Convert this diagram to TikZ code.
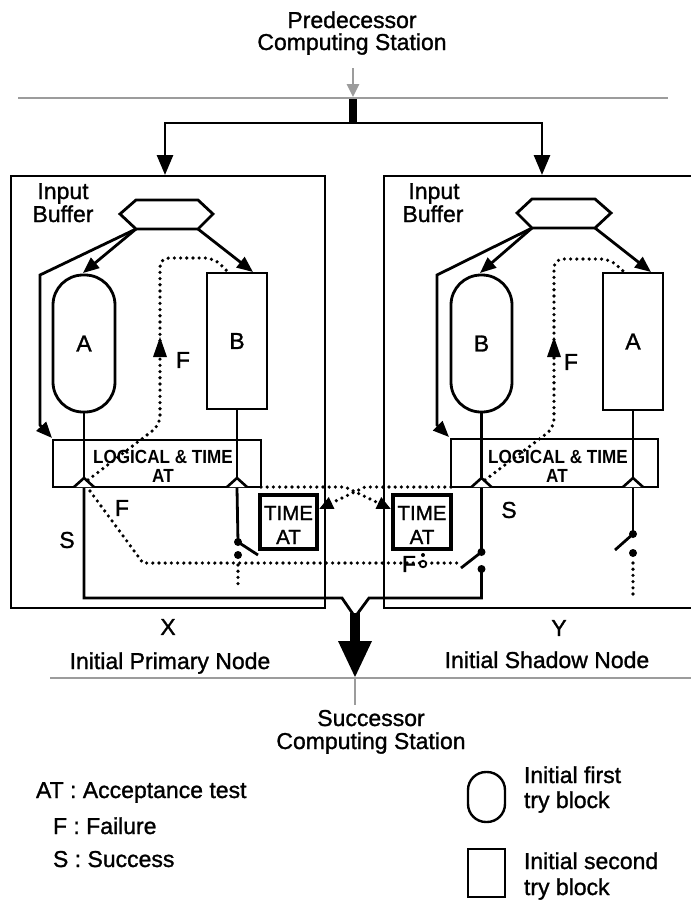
\documentclass[tikz,border=0pt]{standalone}
\usepackage{fontspec}
\setmainfont{Liberation Sans}[FakeBold=1.2]
\newfontfamily\condfont{Liberation Sans}[FakeStretch=0.9]
\usetikzlibrary{arrows.meta}
\definecolor{gline}{HTML}{9C9C9C}
\begin{document}
\begin{tikzpicture}[x=1pt,y=-1pt,
  every node/.style={inner sep=0pt, outer sep=0pt},
  ln/.style={line width=2.8pt},
  frame/.style={draw, line width=2.8pt, rectangle},
  dotl/.style={line width=3.6pt, line cap=round, dash pattern=on 0pt off 6.2pt},
  tipa/.style={-{Triangle[length=16pt,width=13pt]}},
  tipb/.style={-{Triangle[length=20pt,width=16pt]}},
  tipc/.style={-{Triangle[length=14pt,width=12pt]}},
  lab/.style={font=\fontsize{23}{26}\selectfont},
  atlab/.style={font=\condfont\bfseries\fontsize{19}{20}\selectfont},
  tlab/.style={font=\fontsize{20.5}{22}\selectfont},
  hat/.style={line width=2.6pt, fill=white, line join=miter},
  sw/.style={line width=2.8pt},
  dotn/.style={circle, fill=black, minimum size=8pt},
]
\useasboundingbox (0,0) rectangle (691,906);

% ---------- top ----------
\node[lab, anchor=base] (pred1) at (352,28) {Predecessor};
\node[lab, anchor=base] (pred2) at (352,50) {Computing Station};
\coordinate (gin) at (353,68);
\coordinate (bus) at (353,97);
\draw[gline, line width=2.6pt] (18,98) -- (668,98);
\draw[gline, line width=2.6pt, -{Triangle[length=13pt,width=12pt]}] (gin) -- (bus);
\coordinate (stubtop) at (353,99);
\coordinate (split) at (353,123);
\draw[line width=7.5pt] (stubtop) -- (split);

% ---------- node frames ----------
\node[frame, minimum width=314pt, minimum height=432pt] (LX) at (168,392) {};
\node[frame, minimum width=316pt, minimum height=432pt] (RY) at (542,392) {};
\coordinate (lin) at (165,175);
\coordinate (rin) at (542,175);
\draw[ln, tipb] (split) -| (lin);
\draw[ln, tipb] (split) -| (rin);

% ---------- left node X ----------
\node[lab, anchor=base] (inL1) at (63,199) {Input};
\node[lab, anchor=base] (inL2) at (63,222) {Buffer};
\draw[ln] (120,214) -- (136,200) -- (198,200) -- (213,214) -- (198,229) -- (136,229) -- cycle;
\coordinate (hLa) at (136,229);
\coordinate (hLb) at (198,229);
\node[draw, line width=2.8pt, rounded corners=30pt, minimum width=62pt, minimum height=137pt] (LA) at (84,343.5) {};
\node[lab] at (LA.center) {A};
\node[draw, line width=2.8pt, minimum width=60pt, minimum height=136pt] (LB) at (237,341) {};
\node[lab] at (LB.center) {B};
\draw[ln, tipa] (hLa) -- (83,273);
\draw[ln, tipa] (hLb) -- (253,272);
\draw[ln, tipa] (hLa) -- (40,275) -- (40,425) -- (52,438);
\node[frame, minimum width=208pt, minimum height=47pt] (LAT) at (157,463.5) {};
\node[atlab] (LATt1) at (163,457) {LOGICAL \& TIME};
\node[atlab] (LATt2) at (163,475.5) {AT};
% outputs
\draw[ln] (LA.south) -- (84,478);
\draw[hat] (74,487) -- (84,478) -- (94,487);
\draw[ln] (LB.south) -- (237,478);
\draw[hat] (227,487) -- (237,478) -- (247,487);
% F retry path
\draw[dotl, rounded corners=9pt] (88,480) -- (160,425) -- (160,258) -- (214,258) -- (227,271);
\fill (160,337) -- (167,357) -- (153,357) -- cycle;
\node[lab] (FL1) at (183,360) {F};
% S path
\coordinate (merge) at (355,617);
\draw[ln, line join=miter] (84,488) -- (84,598) -- (342,598) -- (merge);
\node[lab] (SL) at (67,540) {S};
\node[lab] (FL2) at (122,508) {F};
% switch of B
\node[dotn] (swL1) at (238,542) {};
\node[dotn] (swL2) at (238,555) {};
\draw[ln] (237,488) -- (swL1.center);
\draw[sw] (swL1.center) -- (258,555);
\draw[dotl] (238,565) -- (238,588);
% F path from A's AT to other node
\draw[dotl] (90,491) -- (143,563) -- (460,563);
% TIME AT left
\node[draw, line width=3.4pt, minimum width=57pt, minimum height=54pt] (LT) at (288.5,522) {};
\node[tlab] (LTt1) at (288.5,513) {TIME};
\node[tlab] (LTt2) at (288.5,537) {AT};

% ---------- right node Y ----------
\node[lab, anchor=base] (inR1) at (434,199) {Input};
\node[lab, anchor=base] (inR2) at (433,222) {Buffer};
\draw[ln] (517,213) -- (532,199) -- (595,199) -- (611,213) -- (595,228) -- (532,228) -- cycle;
\coordinate (hRa) at (532,228);
\coordinate (hRb) at (595,228);
\node[draw, line width=2.8pt, rounded corners=30pt, minimum width=61pt, minimum height=137pt] (RB) at (481.5,343.5) {};
\node[lab] at (RB.center) {B};
\node[draw, line width=2.8pt, minimum width=60pt, minimum height=137pt] (RA) at (633,341.5) {};
\node[lab] at (RA.center) {A};
\draw[ln, tipa] (hRa) -- (480,273);
\draw[ln, tipa] (hRb) -- (651,272);
\draw[ln, tipa] (hRa) -- (437,275) -- (437,425) -- (449,437);
\node[frame, minimum width=207pt, minimum height=48pt] (RAT) at (554.5,463) {};
\node[atlab] (RATt1) at (558,457) {LOGICAL \& TIME};
\node[atlab] (RATt2) at (557,475.5) {AT};
\draw[ln] (RB.south) -- (481.5,478);
\draw[hat] (471.5,487) -- (481.5,478) -- (491.5,487);
\draw[ln] (RA.south) -- (633,478);
\draw[hat] (623,487) -- (633,478) -- (643,487);
\draw[dotl, rounded corners=9pt] (485,480) -- (554,428) -- (554,259) -- (610,259) -- (623,271);
\fill (554,337) -- (561,357) -- (547,357) -- cycle;
\node[lab] (FR1) at (571,362) {F};
\node[lab] (SR) at (509,510) {S};
% switch of B (right)
\node[dotn] (swR1) at (481.5,552) {};
\node[dotn] (swR2) at (481.5,569) {};
\draw[ln] (481.5,488) -- (swR1.center);
\draw[sw] (swR1.center) -- (461,568);
\draw[ln, line join=miter] (swR2.center) -- (481.5,598) -- (369,598) -- (merge);
% switch of A (right)
\node[dotn] (swA1) at (633,534) {};
\node[dotn] (swA2) at (633,553) {};
\draw[ln] (633,488) -- (swA1.center);
\draw[sw] (swA1.center) -- (615,550);
\draw[dotl] (633,563) -- (633,597);
% TIME AT right
\node[draw, line width=3.4pt, minimum width=58pt, minimum height=54pt] (RT) at (422,522) {};
\node[tlab] (RTt1) at (422,513) {TIME};
\node[tlab] (RTt2) at (422,537) {AT};
\node[lab] (FR2) at (409,564) {F};
\fill (423,555) circle (2pt);
\node[circle, draw, line width=1.8pt, fill=white, minimum size=6.5pt] (jn) at (423,564) {};

% ---------- cross timing paths ----------
\draw[dotl, tipc] (LAT.south east) -- (345,487) -- (391,509);
\draw[dotl, tipc] (RAT.south west) -- (365,487) -- (319,509);

% ---------- output ----------
\coordinate (shaftb) at (355,642);
\draw[line width=10pt] (355,613) -- (shaftb);
\fill (338,641) -- (372,641) -- (355,677) -- cycle;
\draw[gline, line width=2.6pt] (50,678) -- (691,678);
\draw[gline, line width=2.6pt] (355,679) -- (355,705);
\node[lab] (xl) at (168,627) {X};
\node[lab, anchor=base] (xn) at (170,669) {Initial Primary Node};
\node[lab] (yl) at (559,628) {Y};
\node[lab, anchor=base] (yn) at (547,668) {Initial Shadow Node};
\node[lab, anchor=base] (succ1) at (371,726) {Successor};
\node[lab, anchor=base] (succ2) at (371,749) {Computing Station};

% ---------- legend ----------
\node[lab, anchor=base west] (lg1) at (36,798) {AT : Acceptance test};
\node[lab, anchor=base west] (lg2) at (53,834) {F : Failure};
\node[lab, anchor=base west] (lg3) at (53,867) {S : Success};
\node[draw, line width=2.4pt, rounded corners=18pt, minimum width=37pt, minimum height=50pt] (lgA) at (486.5,797) {};
\node[draw, line width=2.4pt, minimum width=37pt, minimum height=48pt] (lgB) at (486.5,873) {};
\node[lab, anchor=base west] (lg4) at (524,783) {Initial first};
\node[lab, anchor=base west] (lg5) at (524,808) {try block};
\node[lab, anchor=base west] (lg6) at (524,869) {Initial second};
\node[lab, anchor=base west] (lg7) at (524,895) {try block};
\end{tikzpicture}
\end{document}
